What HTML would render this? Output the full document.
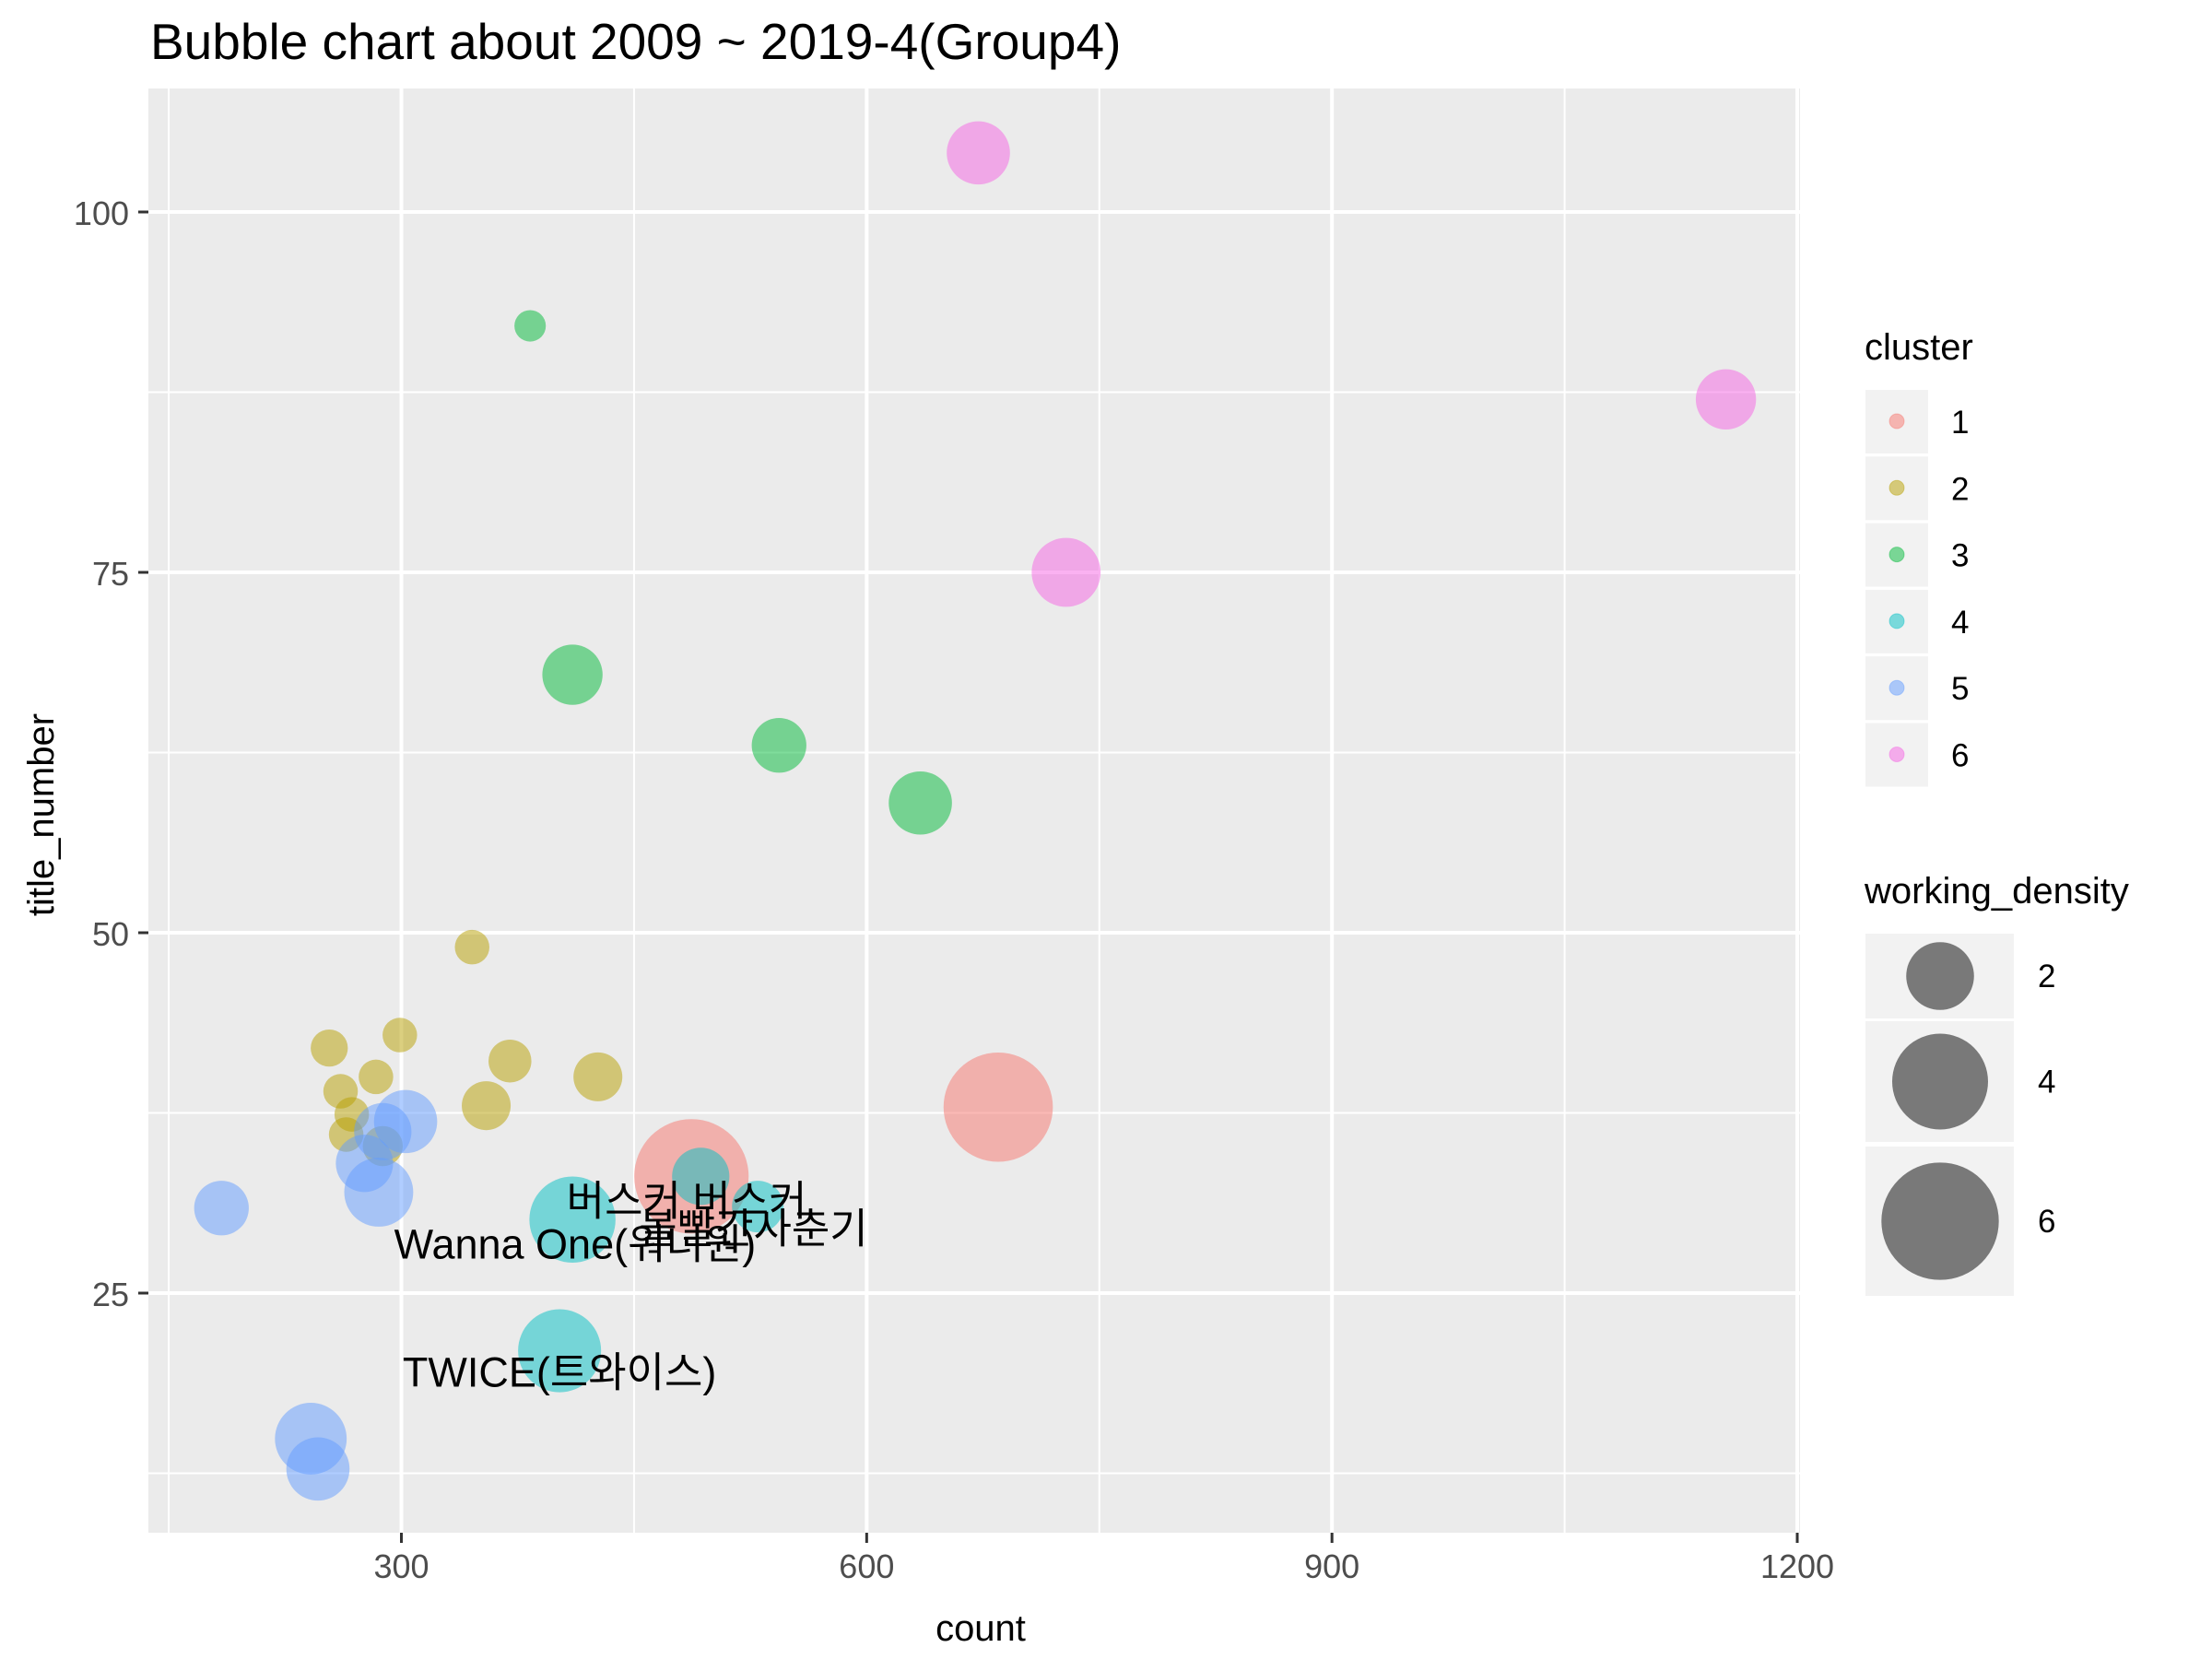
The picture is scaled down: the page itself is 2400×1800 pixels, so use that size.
<!DOCTYPE html>
<html><head><meta charset="utf-8"><style>
html,body{margin:0;padding:0;background:#fff;}
svg{display:block;}
text{font-family:"Liberation Sans","Noto Sans CJK KR",sans-serif;}
</style></head><body>
<svg id="chart" width="2400" height="1800" viewBox="0 0 2400 1800" xmlns="http://www.w3.org/2000/svg">
<rect width="2400" height="1800" fill="#fff"/>
<text x="163" y="64" font-size="55">Bubble chart about 2009 ~ 2019-4(Group4)</text>
<rect x="161" y="96" width="1792" height="1567" fill="#EBEBEB"/>
<g id="grid"></g>
<g id="points"></g>
<g id="labels"></g>
<g id="axes"></g>
<text x="1064" y="1780" font-size="40" text-anchor="middle">count</text>
<text transform="translate(58,884) rotate(-90)" font-size="40" text-anchor="middle">title_number</text>
<g id="legend"></g>
</svg>
<script>
const counts   = [684.8,487,345.6,299,253.5,283.6,260.8,268,264.4,288,370,426.7,354.7,383,410.3,543.5,634.6,410.3,402,529.8,493,184,302.7,288,276.2,285.4,241.6,246.2,672,1154,728.6];
const titles   = [37.9,33.1,49,42.9,42,40,39,37.4,36,35.2,41.1,40,38,92.1,67.9,63,59,30.1,21,31,33.1,30.9,36.9,36.2,34,32,14.9,12.8,104.1,87,75];
const clusters = [1,1,2,2,2,2,2,2,2,2,2,2,2,3,3,3,3,4,4,4,4,5,5,5,5,5,5,5,6,6,6];
const densities= [5.2,5.7,0.52,0.52,0.6,0.52,0.52,0.52,0.52,0.7,0.8,1.04,1.04,0.43,1.58,1.3,1.74,3.23,3.0,1.16,1.43,1.3,1.74,1.43,1.43,2.07,2.24,1.74,1.74,1.58,2.07];
const labelTexts = ["버스커 버스커","볼빨간사춘기","Wanna One(워너원)","TWICE(트와이스)"];
const labelX = [484,527,412,402];
const labelY = [30.4,28.5,27.4,18.5];
const xTicks = [300,600,900,1200];
const yTicks = [25,50,75,100];
const xMinor = [150,450,750,1050];
const yMinor = [12.5,37.5,62.5,87.5];
const colors = ["#F8766D","#B79F00","#00BA38","#00BFC4","#619CFF","#F564E3"];
const sizeBreaks = [2,4,6];

const NS="http://www.w3.org/2000/svg";
const X0=161,X1=1953,Y0=96,Y1=1663;
function sx(v){return 435.5+(v-300)*1.6828;}
function sy(v){return 1403-(v-25)*15.64;}
function sr(d){return 26*Math.sqrt(d);}
function mk(tag,attrs,parent){const e=document.createElementNS(NS,tag);for(const k in attrs)e.setAttribute(k,attrs[k]);parent.appendChild(e);return e;}

const grid=document.getElementById('grid');
xMinor.forEach(v=>{const l=mk('line',{x1:sx(v),x2:sx(v),y1:Y0,y2:Y1,stroke:'#fff','stroke-width':2},grid);

});
yMinor.forEach(v=>{const l=mk('line',{x1:X0,x2:X1,y1:sy(v),y2:sy(v),stroke:'#fff','stroke-width':2},grid);

});
xTicks.forEach(v=>{const l=mk('line',{x1:sx(v),x2:sx(v),y1:Y0,y2:Y1,stroke:'#fff','stroke-width':4},grid);

});
yTicks.forEach(v=>{const l=mk('line',{x1:X0,x2:X1,y1:sy(v),y2:sy(v),stroke:'#fff','stroke-width':4},grid);

});

const axes=document.getElementById('axes');
xTicks.forEach(v=>{
  const t=mk('line',{x1:sx(v),x2:sx(v),y1:Y1,y2:Y1+11,stroke:'#333','stroke-width':3},axes);
  
  
  const tx=mk('text',{x:sx(v),y:1712,'font-size':36,fill:'#4D4D4D','text-anchor':'middle'},axes);tx.textContent=v;
  
  
});
yTicks.forEach(v=>{
  const t=mk('line',{x1:X0-11,x2:X0,y1:sy(v),y2:sy(v),stroke:'#333','stroke-width':3},axes);
  
  
  const tx=mk('text',{x:140,y:sy(v)+14,'font-size':36,fill:'#4D4D4D','text-anchor':'end'},axes);tx.textContent=v;
  
  
});

const pts=document.getElementById('points');
counts.forEach((c,i)=>{
  const col=colors[clusters[i]-1];
  const p=mk('circle',{cx:sx(c),cy:sy(titles[i]),r:sr(densities[i]),fill:col,'fill-opacity':0.5},pts);
  
  
});

const lab=document.getElementById('labels');
labelTexts.forEach((s,i)=>{
  const t=mk('text',{x:sx(labelX[i]),y:sy(labelY[i]),'font-size':45,'text-anchor':'middle',fill:'#000'},lab);t.textContent=s;
  
  
});

const leg=document.getElementById('legend');
const lt=mk('text',{x:2023,y:390,'font-size':40},leg);lt.textContent='cluster';


colors.forEach((c,i)=>{
  const y=423+i*72.3;
  const g=mk('g',{},leg);
  
  
  mk('rect',{x:2024,y:y,width:68,height:69,fill:'#F2F2F2'},g);
  mk('circle',{cx:2058,cy:y+34,r:8,fill:c,'fill-opacity':0.5,stroke:c,'stroke-opacity':0.4},g);
  const t=mk('text',{x:2117,y:y+47,'font-size':35},g);t.textContent=i+1;
});
const wt=mk('text',{x:2023,y:980,'font-size':40},leg);wt.textContent='working_density';


const boxY=[1013,1108,1244],boxH=[92,131,162];
sizeBreaks.forEach((d,i)=>{
  const g=mk('g',{},leg);
  
  
  mk('rect',{x:2024,y:boxY[i],width:161,height:boxH[i],fill:'#F2F2F2'},g);
  const cy=boxY[i]+boxH[i]/2;
  mk('circle',{cx:2105,cy:cy,r:sr(d),fill:'#000','fill-opacity':0.5},g);
  const t=mk('text',{x:2211,y:cy+12,'font-size':35},g);t.textContent=d;
});
</script>
</body></html>
